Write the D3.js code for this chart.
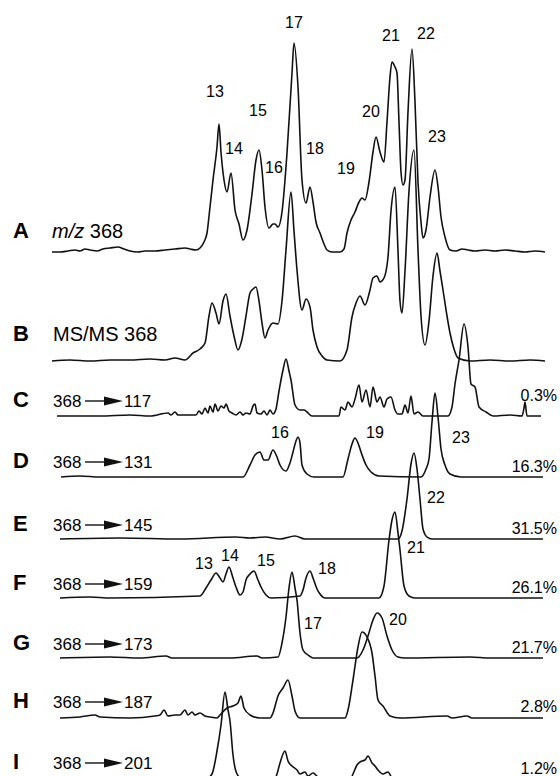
<!DOCTYPE html>
<html>
<head>
<meta charset="utf-8">
<script src="https://cdn.jsdelivr.net/npm/d3@7"></script>
<style>
  body { margin: 0; background: #fff; }
  svg { display: block; font-family: "Liberation Sans", Arial, Helvetica, sans-serif; }
</style>
</head>
<body>
<svg id="chart"></svg>
<script>
// retention time (min) / relative intensity pairs
const rowLetters = ["A", "B", "C", "D", "E", "F", "G", "H", "I"];
const productIons = [null, null, "117", "131", "145", "159", "173", "187", "201"];
const percents = [null, null, "0.3%", "16.3%", "31.5%", "26.1%", "21.7%", "2.8%", "1.2%"];

const traceA = [[0,0],[0.8,0],[1.6,0.5],[2.3,1],[2.8,0.5],[3.3,1.5],[3.8,1],[4.5,0.5],[5.1,1.5],[5.8,2],
  [6.6,2.5],[7.2,1.5],[7.8,0.5],[8.6,0],[9.3,0.5],[10.3,0.5],[11.3,1],[12.3,1.5],[13.3,2],[13.8,1.5],
  [14.4,1],[14.8,2],[15.2,5],[15.5,9.5],[15.8,22.5],[16.1,36],[16.5,52.5],[16.7,64],[16.9,50],[17.2,36],
  [17.5,30],[17.9,39.5],[18.3,21],[18.7,14],[19.1,6],[19.5,11],[20.0,29],[20.4,46],[20.7,51],[21.0,41],
  [21.3,22.5],[21.7,12],[22.1,14],[22.3,14],[22.6,12.5],[23.0,20],[23.5,49.5],[24.0,89.5],[24.2,104.5],
  [24.6,82.5],[25.0,36],[25.4,24.5],[25.8,32.5],[26.1,25],[26.4,15],[26.8,9.5],[27.2,4],[27.5,1],[28.0,0],
  [28.8,0],[29.2,1.5],[29.5,9.5],[29.9,16],[30.3,20],[30.7,25],[31.0,27],[31.3,26],[31.7,35],[32.1,50],
  [32.4,57.5],[32.8,50],[33.2,45],[33.5,65],[33.8,87.5],[34.0,95],[34.3,92.5],[34.5,89.5],[34.7,65],
  [34.9,40],[35.1,33.5],[35.3,36],[35.6,70],[36.0,101.5],[36.3,75],[36.6,35],[36.9,15],[37.1,7],[37.4,11],
  [37.8,27.5],[38.3,41],[38.6,32.5],[38.9,17.5],[39.3,7.5],[39.8,1],[40.4,0.5],[41.0,1.5],[41.6,1],
  [42.3,0.5],[43.3,1],[44.3,0.5],[45.3,1],[46.3,0.5],[47.3,0],[48.3,0.5],[49.3,0]];

const traceB = [[0,0],[1.8,0.5],[3.8,0],[5.8,0.5],[7.8,0.5],[9.8,1],[11.3,0.5],[12.3,1.5],[13.3,0.5],
  [14.1,4],[14.8,6],[15.3,9],[15.7,22.5],[16.0,29],[16.4,24],[16.7,18.5],[17.1,30],[17.4,33.5],[17.8,22.5],
  [18.2,12.5],[18.6,5.5],[19.0,11],[19.4,22.5],[19.8,34],[20.1,36],[20.4,37],[20.7,30],[21.0,19],
  [21.3,11.5],[21.6,15.5],[22.1,19],[22.6,18.5],[23.0,30],[23.4,55.5],[23.9,84.5],[24.2,65],[24.5,45.5],
  [25.0,25.5],[25.4,31],[25.8,27],[26.1,15.5],[26.5,7],[27.0,2.5],[27.5,0.5],[28.8,0],[29.5,5.5],[30.0,22],
  [30.4,29],[30.8,32.5],[31.3,28],[31.8,35.5],[32.1,41.5],[32.5,42.5],[32.8,39.5],[33.2,41.5],[33.6,52],
  [33.9,75],[34.3,87],[34.6,55],[34.8,30],[35.0,24],[35.3,45],[35.7,85],[36.2,105.5],[36.6,55.5],
  [36.9,22.5],[37.3,8],[37.7,20],[38.1,42.5],[38.5,54],[38.8,45],[39.1,35.5],[39.5,22.5],[39.8,14],
  [40.2,6],[40.6,1.5],[41.8,0],[43.8,0.5],[45.8,0],[47.8,0.5],[49.3,0]];

const traceC = [[0.5,0],[4.8,0],[7.8,0.5],[9.8,0],[11.6,1.5],[11.9,0.5],[12.3,2],[12.6,0.5],[14.4,0.5],
  [14.7,2.5],[15.0,1],[15.3,4],[15.6,1.5],[15.8,5],[16.1,2],[16.3,6],[16.6,2.5],[16.9,5],[17.2,4],[17.4,6],
  [17.7,2.5],[18.0,1.5],[18.4,0.5],[18.8,2],[19.1,0.5],[19.4,1.5],[19.8,1],[20.1,5],[20.3,6],[20.5,1.5],
  [20.9,1],[21.2,2.5],[21.5,0.5],[21.8,3],[22.1,1],[22.4,3.5],[22.7,12.5],[23.1,23],[23.4,28.5],[23.7,22.5],
  [23.9,18],[24.3,5.5],[24.8,3],[25.2,3],[25.5,2],[26.0,0],[28.7,0],[28.9,4.5],[29.3,3],[29.6,7],[30.0,4.5],
  [30.3,8.5],[30.7,15.5],[31.0,7],[31.4,13],[31.8,4.5],[32.1,14.5],[32.5,7],[32.8,9.5],[33.2,4.5],[33.5,8.5],
  [33.9,9.5],[34.3,3],[34.6,1],[35.0,1],[35.3,5.5],[35.6,1.5],[35.9,10],[36.2,1],[36.6,2],[37.1,0],[39.6,0],
  [40.0,4.5],[40.3,16],[40.7,28],[41.2,46],[41.6,34.5],[41.9,16],[42.3,14.5],[42.7,4.5],[43.4,2],[44.1,0],
  [45.8,0.5],[47.0,0],[47.2,4],[47.3,7],[47.5,0],[48.9,0]];

const traceD = [[0.9,0],[2.8,0.5],[4.8,0],[19.1,0],[19.8,6],[20.3,11],[20.8,12.5],[21.2,8.5],[21.6,8.5],
  [22.1,13.5],[22.5,10],[22.8,6],[23.4,3],[23.8,7],[24.1,12.5],[24.4,18],[24.6,20],[24.8,17],[25.0,6],
  [25.5,1.5],[26.2,0],[29.1,0],[29.6,9],[30.0,16.5],[30.3,19.5],[30.6,17],[30.9,12.5],[31.4,6],[31.9,2.5],
  [32.7,0.5],[36.9,0],[37.4,4],[37.7,9],[38.0,27.5],[38.3,42],[38.6,30],[38.9,14],[39.3,6],[39.8,1.5],
  [40.9,0],[49.1,0]];

const traceE = [[0.8,0],[6.8,0.5],[12.8,0],[18.4,1],[19.8,0.5],[21.3,1],[22.8,0],[24.3,1.5],[25.3,0],
  [34.6,0],[35.0,4],[35.5,20],[35.9,37.5],[36.2,43],[36.5,35],[36.8,20],[37.1,5],[37.5,1],[38.0,0],[49.1,0]];

const traceF = [[0.8,0],[3.8,0.5],[5.8,0],[14.8,1],[15.4,5],[15.9,9],[16.4,12.5],[16.8,10],[17.1,8],
  [17.4,12],[17.7,15.5],[18.1,10],[18.4,5.5],[18.8,1.5],[19.1,3],[19.4,9],[19.8,12],[20.2,13.5],[20.6,9],
  [20.9,5.5],[21.4,1.5],[21.9,0],[24.8,1],[25.1,4],[25.4,10],[25.8,13.5],[26.1,10],[26.5,4.5],[26.8,2],
  [27.3,0],[32.7,0],[33.2,6],[33.7,29],[34.0,39],[34.3,43],[34.6,32.5],[34.8,24],[35.2,6],[35.7,1],[36.3,0],
  [49.1,0]];

const traceG = [[0.8,0],[5.8,0.5],[8.8,0],[11.4,1],[12.0,0],[17.8,0],[20.5,1],[21.0,0],[22.6,0.5],[23.0,7.5],
  [23.4,20.5],[23.7,35],[24.0,43],[24.3,35],[24.5,29],[24.8,12.5],[25.1,4],[25.6,1.5],[26.1,0],[30.5,0],
  [31.1,4],[31.6,11],[32.1,19],[32.5,22.5],[33.0,20],[33.5,11],[34.0,4],[34.6,0.5],[35.3,0],[41.8,0.5],
  [43.8,0],[49.1,0]];

const traceH = [[0.8,0],[2.8,0.5],[4.3,1.5],[4.8,0.5],[7.8,0],[10.3,1],[10.8,1.5],[11.2,4],[11.6,1],
  [12.3,1.5],[12.8,1.5],[13.3,4],[13.6,1.5],[14.0,3],[14.3,1.5],[14.8,2.5],[15.3,1],[15.8,0.5],[16.5,0],
  [16.8,1.5],[17.5,5],[18.1,6],[18.6,7.5],[18.9,11],[19.2,5],[19.8,1.5],[20.8,0],[21.8,0],[22.1,2.5],
  [22.6,11],[23.1,15],[23.6,19],[24.0,11],[24.3,3.5],[24.8,0],[29.3,0],[29.6,4],[30.1,19],[30.6,35.5],
  [31.0,43],[31.5,40.5],[32.0,32.5],[32.3,21],[32.6,9],[33.1,6],[33.8,1],[34.8,0],[39.5,1],[40.0,0],
  [41.5,1],[42.0,0],[49.1,0]];

const traceI = [[0.8,0],[14.8,0],[15.3,1],[16.0,4],[16.5,15.5],[16.9,28.5],[17.3,45],[17.6,36],[17.8,30.5],
  [18.1,13.5],[18.5,4],[19.0,1.5],[19.8,0],[22.0,0],[22.5,4],[22.8,9.5],[23.3,15.5],[23.6,10.5],[24.0,8],
  [24.5,6],[24.8,4],[25.3,5],[25.6,3],[26.1,4.5],[26.6,2.5],[27.3,1],[28.8,0],[29.8,1],[30.1,4],[30.5,8.5],
  [31.0,10.5],[31.3,11],[31.6,13],[32.0,9.5],[32.3,8],[32.6,6],[33.1,4],[33.6,5],[34.0,2],[34.8,0],[49.1,0]];

// peak numbers: [time, height above trace baseline, label]
const peakLabelsA = [[16.3,80.5,"13"],[18.2,52,"14"],[20.6,71,"15"],[22.2,42.5,"16"],[24.2,115,"17"],
  [26.3,52,"18"],[29.4,42,"19"],[31.9,70.5,"20"],[33.9,108.5,"21"],[37.4,109.5,"22"],[38.5,58,"23"]];
const peakLabelsD = [[22.8,22.5,"16"],[32.3,22.5,"19"],[40.9,20,"23"]];
const peakLabelsE = [[38.4,21,"22"]];
const peakLabelsF = [[15.2,17.5,"13"],[17.8,21.5,"14"],[21.4,19,"15"],[27.5,15,"18"],[36.4,25.5,"21"]];
const peakLabelsG = [[26.1,17.5,"17"],[34.6,19.5,"20"]];

const traces = [traceA, traceB, traceC, traceD, traceE, traceF, traceG, traceH, traceI];
const peakLabels = [peakLabelsA, [], [], peakLabelsD, peakLabelsE, peakLabelsF, peakLabelsG, [], []];

// layout
const WIDTH = 560, HEIGHT = 776;
const BASELINES = [252, 361, 416, 477, 539, 598, 658, 718, 782];
const LABEL_Y = [238, 341, 407, 468, 531, 590, 650, 708, 769];
const PCT_Y = [null, null, 401, 472, 534, 593, 653, 712, 774];

const svg = d3.select("#chart")
    .attr("width", WIDTH)
    .attr("height", HEIGHT);

svg.append("rect")
    .attr("width", "100%")
    .attr("height", "100%")
    .attr("fill", "white");

const x = d3.scaleLinear().domain([0, 49.3]).range([52, 545]);

traces.forEach((data, i) => {
    const y = d3.scaleLinear().domain([0, 100]).range([BASELINES[i], BASELINES[i] - 200]);
    const line = d3.line()
        .x(d => x(d[0]))
        .y(d => y(d[1]))
        .curve(d3.curveMonotoneX);

    svg.append("path")
        .datum(data)
        .attr("d", line)
        .attr("fill", "none")
        .attr("stroke", "#111")
        .attr("stroke-width", 1.6)
        .attr("stroke-linejoin", "round");

    svg.append("g").selectAll("text")
        .data(peakLabels[i])
        .join("text")
        .attr("x", d => x(d[0]))
        .attr("y", d => y(d[1]))
        .attr("dy", "0.35em")
        .attr("text-anchor", "middle")
        .style("font-size", "16px")
        .text(d => d[2]);
});

// row letters
svg.append("g").selectAll("text")
    .data(rowLetters)
    .join("text")
    .attr("x", 13)
    .attr("y", (d, i) => LABEL_Y[i])
    .style("font-size", "22px")
    .style("font-weight", "bold")
    .text(d => d);

// row titles
const t0 = svg.append("text").attr("x", 52).attr("y", LABEL_Y[0]).style("font-size", "20px");
t0.append("tspan").style("font-style", "italic").text("m/z");
t0.append("tspan").text(" 368");

svg.append("text").attr("x", 53).attr("y", LABEL_Y[1]).style("font-size", "20px").text("MS/MS 368");

productIons.forEach((ion, i) => {
    if (!ion) return;
    const ty = LABEL_Y[i];
    const g = svg.append("g");
    g.append("text").attr("x", 53).attr("y", ty).style("font-size", "17px").text("368");
    g.append("line")
        .attr("x1", 85).attr("x2", 106)
        .attr("y1", ty - 6).attr("y2", ty - 6)
        .attr("stroke", "#111").attr("stroke-width", 1.4);
    g.append("path")
        .attr("d", `M104,${ty - 10.5}L123,${ty - 6}L104,${ty - 1.5}Z`)
        .attr("fill", "#111");
    g.append("text").attr("x", 124).attr("y", ty).style("font-size", "17px").text(ion);
});

// percent of total
svg.append("g").selectAll("text")
    .data(percents)
    .join("text")
    .attr("x", 557)
    .attr("y", (d, i) => PCT_Y[i])
    .attr("text-anchor", "end")
    .style("font-size", "16px")
    .text(d => d || "");
</script>
</body>
</html>
